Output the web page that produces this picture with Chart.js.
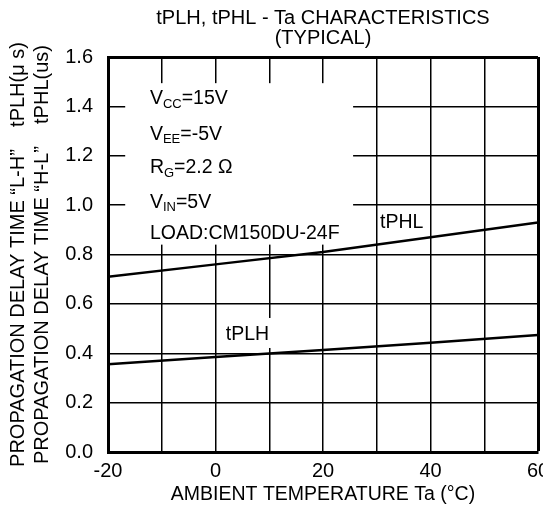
<!DOCTYPE html>
<html>
<head>
<meta charset="utf-8">
<script src="https://cdn.jsdelivr.net/npm/chart.js@4/dist/chart.umd.min.js"></script>
<style>
  html, body { margin: 0; padding: 0; background: #fff; }
  #wrap { width: 543px; height: 506px; }
</style>
</head>
<body>
<div id="wrap"><canvas id="chart"></canvas></div>
<script>
const temps = [-20, 0, 20, 40, 60];
const tPHL = [0.71, 0.76, 0.81, 0.87, 0.93];
const tPLH = [0.355, 0.385, 0.413, 0.443, 0.474];

const xTicks = [-20, 0, 20, 40, 60];
const yTicks = [0.0, 0.2, 0.4, 0.6, 0.8, 1.0, 1.2, 1.4, 1.6];

const titleLines = ['tPLH, tPHL - Ta CHARACTERISTICS', '(TYPICAL)'];
const yTitleLines = [
    'PROPAGATION DELAY TIME \u201CL-H\u201D    tPLH(\u03BC s)',
    'PROPAGATION DELAY TIME \u201CH-L\u201D    tPHL(us)'
];
const xTitle = 'AMBIENT TEMPERATURE Ta (\u00B0C)';

// conditions box, each line is [text, subscript, rest]
const conditions = [
    ['V', 'CC', '=15V'],
    ['V', 'EE', '=-5V'],
    ['R', 'G', '=2.2 \u03A9'],
    ['V', 'IN', '=5V'],
    ['LOAD:CM150DU-24F', '', '']
];
const conditionY = [1.43, 1.285, 1.15, 1.01, 0.885];

const curveLabels = [
    { text: 'tPHL', x: 30.6, y: 0.93, bg: false },
    { text: 'tPLH', x: 1.9, y: 0.474, bg: true }
];

const FONT = '"Liberation Sans", Arial, sans-serif';
const TXT = 19.5;

function toPoints(ys) {
    return temps.map((t, i) => ({ x: t, y: ys[i] }));
}

// white box behind the test conditions, hides the grid like on the datasheet
const boxPlugin = {
    id: 'condBox',
    beforeDatasetsDraw(chart) {
        const { ctx, scales: { x, y } } = chart;
        ctx.save();
        ctx.fillStyle = '#fff';
        const x0 = x.getPixelForValue(-16.8), x1 = x.getPixelForValue(25.6);
        const y0 = y.getPixelForValue(1.494), y1 = y.getPixelForValue(0.84);
        ctx.fillRect(x0, y0, x1 - x0, y1 - y0);
        ctx.font = TXT + 'px ' + FONT;
        curveLabels.filter(l => l.bg).forEach(l => {
            const px = x.getPixelForValue(l.x), py = y.getPixelForValue(l.y);
            const w = ctx.measureText(l.text).width;
            ctx.fillRect(px - 4, py - 17, w + 10, 30);
        });
        ctx.restore();
    },
    afterDatasetsDraw(chart) {
        const { ctx, scales: { x, y } } = chart;
        ctx.save();
        ctx.fillStyle = '#000';
        ctx.textBaseline = 'middle';
        const left = x.getPixelForValue(-12.2);
        conditions.forEach((parts, i) => {
            const py = y.getPixelForValue(conditionY[i]);
            let px = left;
            ctx.font = TXT + 'px ' + FONT;
            ctx.fillText(parts[0], px, py);
            px += ctx.measureText(parts[0]).width;
            if (parts[1]) {
                ctx.font = '13px ' + FONT;
                ctx.fillText(parts[1], px, py + 5);
                px += ctx.measureText(parts[1]).width;
            }
            ctx.font = TXT + 'px ' + FONT;
            ctx.fillText(parts[2], px, py);
        });
        ctx.font = TXT + 'px ' + FONT;
        curveLabels.forEach(l => {
            ctx.fillText(l.text, x.getPixelForValue(l.x), y.getPixelForValue(l.y));
        });
        ctx.restore();
    }
};

const lineStyle = {
    borderColor: '#000',
    borderWidth: 2.5,
    pointRadius: 0,
    fill: false,
    tension: 0
};

new Chart(document.getElementById('chart'), {
    type: 'line',
    data: {
        datasets: [
            { label: 'tPHL', data: toPoints(tPHL), ...lineStyle },
            { label: 'tPLH', data: toPoints(tPLH), ...lineStyle }
        ]
    },
    options: {
        responsive: true,
        maintainAspectRatio: false,
        animation: false,
        layout: { padding: { top: 0, left: 0, right: 5, bottom: 0 } },
        plugins: {
            legend: { display: false },
            tooltip: { enabled: false },
            title: {
                display: true,
                text: titleLines,
                fullSize: false,
                color: '#000',
                font: { family: FONT, size: 20, weight: 'normal', lineHeight: 1.0 },
                padding: { top: 8, bottom: 9 }
            }
        },
        scales: {
            x: {
                type: 'linear',
                min: -20,
                max: 60,
                afterFit(s) { s.height = 54; s.paddingLeft = 0; s.paddingRight = 0; },
                afterBuildTicks(s) {
                    s.ticks = [];
                    for (let v = -20; v <= 60; v += 10) s.ticks.push({ value: v });
                },
                ticks: {
                    color: '#000',
                    font: { family: FONT, size: 20 },
                    padding: 7,
                    maxRotation: 0,
                    autoSkip: false,
                    callback: v => xTicks.includes(v) ? String(v) : ''
                },
                grid: {
                    color: '#000',
                    drawTicks: false,
                    lineWidth: c => c.tick && c.tick.value === 60 ? 3 : 1.5
                },
                border: { color: '#000', width: 3 },
                title: {
                    display: true,
                    text: xTitle,
                    color: '#000',
                    font: { family: FONT, size: TXT },
                    padding: { top: 0, bottom: 0 }
                }
            },
            y: {
                min: 0,
                max: 1.6,
                afterFit(s) { s.width = 108; },
                afterBuildTicks(s) {
                    s.ticks = yTicks.map(v => ({ value: v }));
                },
                ticks: {
                    color: '#000',
                    font: { family: FONT, size: 20 },
                    padding: 15,
                    callback: v => v.toFixed(1)
                },
                grid: {
                    color: '#000',
                    drawTicks: false,
                    lineWidth: c => c.tick && c.tick.value === 1.6 ? 3 : 1.5
                },
                border: { color: '#000', width: 3 },
                title: {
                    display: true,
                    text: yTitleLines,
                    color: '#000',
                    font: { family: FONT, size: 20, lineHeight: 1.2 },
                    padding: { top: 6, bottom: 0 }
                }
            }
        }
    },
    plugins: [boxPlugin]
});
</script>
</body>
</html>
